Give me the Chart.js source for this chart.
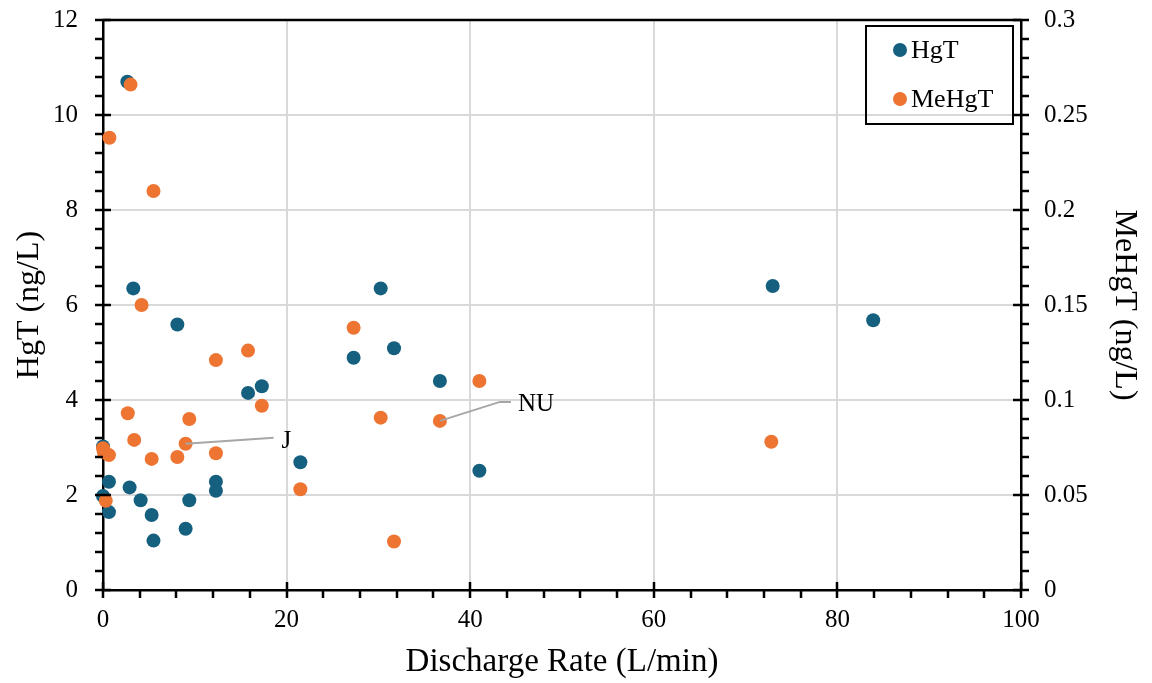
<!DOCTYPE html>
<html>
<head>
<meta charset="utf-8">
<script src="https://cdn.jsdelivr.net/npm/chart.js@4"></script>
<style>
  html, body { margin: 0; padding: 0; background: #fff; }
  #wrap { width: 1152px; height: 683px; }
</style>
</head>
<body>
<div id="wrap"><canvas id="myChart" width="1152" height="683"></canvas></div>
<script>
// discharge rate (L/min) and concentrations
const hgtRate = [2.65, 3.3, 8.1, 15.8, 17.3, 0, 0.65, 2.9, 4.1, 0, 0.65, 5.3, 5.5, 9.0, 9.4, 12.3, 12.3, 21.5, 27.3, 30.25, 31.7, 36.7, 41.0, 72.95, 83.9];
const hgtVal  = [10.7, 6.35, 5.59, 4.15, 4.29, 3.02, 2.28, 2.16, 1.89, 1.98, 1.64, 1.58, 1.04, 1.29, 1.89, 2.28, 2.09, 2.69, 4.89, 6.35, 5.09, 4.40, 2.51, 6.40, 5.68];

const mehgRate = [3.0, 0.7, 5.5, 4.2, 12.3, 15.8, 17.3, 2.7, 9.4, 3.4, 9.0, 0, 0.1, 0.65, 5.3, 8.1, 12.3, 0.3, 21.5, 27.3, 41.0, 30.25, 36.7, 31.7, 72.8];
const mehgVal  = [0.266, 0.238, 0.210, 0.150, 0.121, 0.126, 0.097, 0.093, 0.090, 0.079, 0.077, 0.0746, 0.0725, 0.071, 0.069, 0.070, 0.072, 0.047, 0.053, 0.138, 0.110, 0.0907, 0.089, 0.0255, 0.078];

// site labels on MeHgT points
const siteNames = ['J', 'NU'];
const siteRate  = [9.0, 36.7];
const siteVal   = [0.077, 0.089];

const xTicks = [0, 20, 40, 60, 80, 100];
const yTicks = [0, 2, 4, 6, 8, 10, 12];
const y2Ticks = [0, 0.05, 0.1, 0.15, 0.2, 0.25, 0.3];

const BLUE = '#16607f';
const ORANGE = '#ee7432';
const SERIF = '"Liberation Serif", "DejaVu Serif", serif';

const toPts = (xs, ys) => xs.map((x, i) => ({ x: x, y: ys[i] }));

// fixed box sizes so the plot area lands at the same spot every time
const fixWidth = (w) => (s) => { s.width = w; s.paddingTop = 0; s.paddingBottom = 0; };
const fixHeight = (h) => (s) => { s.height = h; s.paddingLeft = 0; s.paddingRight = 0; };

// frame, tick marks, legend box and site labels
const extras = {
    id: 'extras',
    afterDraw(chart) {
        const ctx = chart.ctx;
        const a = chart.chartArea;
        const sx = chart.scales.x, sy = chart.scales.y, sy2 = chart.scales.y2;
        ctx.save();
        ctx.strokeStyle = '#000';
        ctx.lineWidth = 2.5;
        ctx.beginPath();
        ctx.moveTo(a.left, a.top); ctx.lineTo(a.right, a.top);
        ctx.stroke();

        ctx.beginPath();
        for (let v = 0; v <= 12.001; v += 0.4) {
            const p = Math.round(sy.getPixelForValue(v));
            const major = Math.abs(v / 2 - Math.round(v / 2)) < 0.01;
            ctx.moveTo(a.left - 8, p); ctx.lineTo(a.left + (major ? 8 : 0), p);
        }
        for (let v = 0; v <= 0.3001; v += 0.01) {
            const p = Math.round(sy2.getPixelForValue(v));
            const major = Math.abs(v / 0.05 - Math.round(v / 0.05)) < 0.01;
            ctx.moveTo(a.right + 8, p); ctx.lineTo(a.right - (major ? 8 : 0), p);
        }
        for (let v = 0; v <= 100.01; v += 4) {
            const p = Math.round(sx.getPixelForValue(v));
            const major = v % 20 === 0;
            ctx.moveTo(p, a.bottom + 8); ctx.lineTo(p, a.bottom - (major ? 8 : 0));
        }
        ctx.stroke();

        // legend
        const lx = a.right - 155, ly = a.top + 6;
        ctx.lineWidth = 2;
        ctx.strokeRect(lx, ly, 147, 98);
        ctx.font = '26px ' + SERIF;
        ctx.textBaseline = 'middle';
        ctx.textAlign = 'left';
        [[BLUE, 'HgT', 24], [ORANGE, 'MeHgT', 73]].forEach(([c, t, dy]) => {
            ctx.fillStyle = c;
            ctx.beginPath();
            ctx.arc(lx + 34, ly + dy, 7, 0, Math.PI * 2);
            ctx.fill();
            ctx.fillStyle = '#000';
            ctx.fillText(t, lx + 45, ly + dy + 1);
        });

        // site labels with leader lines
        ctx.font = '25px ' + SERIF;
        ctx.strokeStyle = '#a6a6a6';
        ctx.lineWidth = 2;
        siteNames.forEach((name, i) => {
            const px = sx.getPixelForValue(siteRate[i]);
            const py = sy2.getPixelForValue(siteVal[i]);
            ctx.beginPath();
            ctx.moveTo(px, py);
            if (name === 'J') {
                ctx.lineTo(px + 88, py - 6);
                ctx.stroke();
                ctx.fillText(name, px + 96, py - 2);
            } else {
                ctx.lineTo(px + 60, py - 19);
                ctx.lineTo(px + 71, py - 19);
                ctx.stroke();
                ctx.fillText(name, px + 78, py - 16);
            }
        });
        ctx.restore();
    }
};

const config = {
    type: 'scatter',
    data: {
        datasets: [
            { label: 'HgT', data: toPts(hgtRate, hgtVal), yAxisID: 'y', order: 2,
              backgroundColor: BLUE, borderColor: BLUE, pointRadius: 7, pointBorderWidth: 0 },
            { label: 'MeHgT', data: toPts(mehgRate, mehgVal), yAxisID: 'y2', order: 1,
              backgroundColor: ORANGE, borderColor: ORANGE, pointRadius: 7, pointBorderWidth: 0 }
        ]
    },
    options: {
        responsive: false,
        animation: false,
        layout: { padding: { top: 20, left: 0, right: 0, bottom: 0 } },
        plugins: { legend: { display: false }, tooltip: { enabled: false } },
        elements: { point: { hoverRadius: 7 } },
        datasets: { scatter: { clip: false } },
        scales: {
            x: {
                type: 'linear', min: 0, max: 100,
                afterBuildTicks: (s) => { s.ticks = xTicks.map(v => ({ value: v })); },
                afterFit: fixHeight(93),
                grid: { color: '#d9d9d9', lineWidth: 2, drawTicks: false },
                border: { color: '#000', width: 2.5 },
                ticks: { color: '#000', padding: 15, font: { family: SERIF, size: 25 } },
                title: { display: true, text: 'Discharge Rate (L/min)', color: '#000',
                         padding: { top: 0, bottom: 1 }, font: { family: SERIF, size: 33 } }
            },
            y: {
                position: 'left', min: 0, max: 12,
                afterBuildTicks: (s) => { s.ticks = yTicks.map(v => ({ value: v })); },
                afterFit: fixWidth(103),
                grid: { color: '#d9d9d9', lineWidth: 2, drawTicks: false },
                border: { color: '#000', width: 2.5 },
                ticks: { color: '#000', padding: 25, font: { family: SERIF, size: 25 } },
                title: { display: true, text: 'HgT (ng/L)', color: '#000',
                         padding: { top: 10, bottom: 0 }, font: { family: SERIF, size: 32 } }
            },
            y2: {
                position: 'right', min: 0, max: 0.3,
                afterBuildTicks: (s) => { s.ticks = y2Ticks.map(v => ({ value: v })); },
                afterFit: fixWidth(131),
                grid: { display: false, drawTicks: false },
                border: { color: '#000', width: 2.5 },
                ticks: { color: '#000', padding: 23, font: { family: SERIF, size: 25 },
                         callback: (v) => String(+v.toFixed(2)) },
                title: { display: true, text: 'MeHgT (ng/L)', color: '#000',
                         padding: { top: 8, bottom: 0 }, font: { family: SERIF, size: 32 } }
            }
        }
    },
    plugins: [extras]
};

const myChart = new Chart(document.getElementById('myChart'), config);
</script>
</body>
</html>
